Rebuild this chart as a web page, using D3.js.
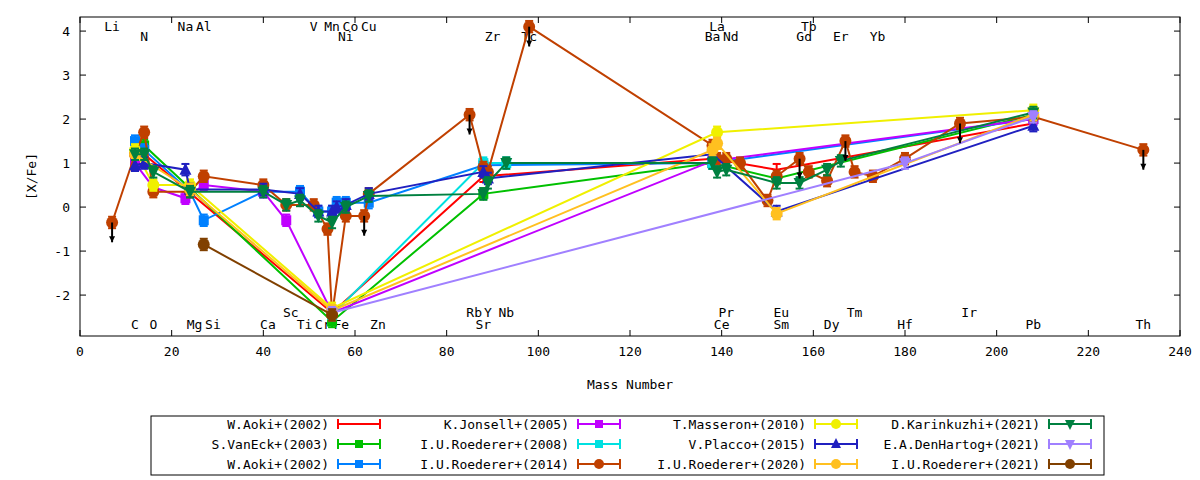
<!DOCTYPE html>
<html><head><meta charset="utf-8">
<script src="https://cdn.jsdelivr.net/npm/d3@7"></script>
<style>body{margin:0;background:#fff}text{font-family:'DejaVu Sans Mono',monospace;font-size:13px}</style>
</head><body><svg id="chart" width="1200" height="480"></svg>
<script>
// element labels: [symbol, mass, row] rows: 0 top, 1 top-second, 2 bottom-upper, 3 bottom
const elements = [
  ['Li',7,0],['Na',23,0],['Al',27,0],['V',51,0],['Mn',55,0],['Co',59,0],['Cu',63,0],['La',139,0],['Tb',159,0],
  ['N',14,1],['Ni',58,1],['Zr',90,1],['Tc',98,1],['Ba',138,1],['Nd',142,1],['Gd',158,1],['Er',166,1],['Yb',174,1],
  ['Sc',46,2],['Rb',86,2],['Y',89,2],['Nb',93,2],['Pr',141,2],['Eu',153,2],['Tm',169,2],['Ir',194,2],
  ['C',12,3],['O',16,3],['Mg',25,3],['Si',29,3],['Ca',41,3],['Ti',49,3],['Cr',53,3],['Fe',57,3],['Zn',65,3],
  ['Sr',88,3],['Ce',140,3],['Sm',153,3],['Dy',164,3],['Hf',180,3],['Pb',208,3],['Th',232,3]
];
const xTicks = [0,20,40,60,80,100,120,140,160,180,200,220,240];
const yTicks = [-2,-1,0,1,2,3,4];

const aoki = [[12,1.1],[14,1.2],[55,-2.4],[88,0.7],[138,1.1],[152,0.85],[208,1.9]];
const vanEck = [[12,1.2],[14,1.4],[55,-2.6],[88,0.3],[138,1.0],[152,0.65],[208,2.1]];
const aoki2 = [[12,1.5],[14,1.3],[24,0.35],[27,-0.3],[40,0.35],[48,0.35],[52,-0.1],[55,-0.1],[56,0.1],[58,0.1],[63,0.1],[88,0.95],[138,1.0],[208,2.0]];
const jonsell = [[12,1.0],[16,0.45],[23,0.2],[27,0.5],[40,0.35],[45,-0.3],[55,-2.4],[138,1.05],[208,2.0]];
const roederer08 = [[55,-2.45],[88,1.0],[93,1.0],[138,1.0]];
const roederer14 = [[7,-0.35],[12,1.2],[14,1.7],[16,0.35],[24,0.35],[27,0.7],[40,0.5],[45,0.05],[51,0.05],[54,-0.5],[55,-2.45],[58,-0.2],[62,-0.2],[63,0.3],[85,2.1],[88,0.9],[89,0.8],[98,4.1],[138,1.4],[139,1.1],[141,1.1],[144,1.0],[150,0.15],[152,0.7],[157,1.1],[159,0.8],[163,0.6],[167,1.5],[169,0.8],[173,0.7],[180,1.1],[192,1.9],[208,2.05],[232,1.3]];
const roederer14Limits = [7,62,85,98,157,167,192,232];
const masseron = [[12,1.3],[16,0.5],[24,0.5],[55,-2.3],[139,1.7],[208,2.2]];
const placco = [[12,0.95],[14,1.0],[23,0.85],[24,0.4],[40,0.4],[48,0.3],[52,-0.1],[55,-0.1],[56,0.0],[58,0.05],[63,0.3],[88,0.8],[89,0.65],[138,1.2],[152,-0.1],[208,1.85]];
const roederer20 = [[12,1.2],[24,0.4],[55,-2.35],[138,1.3],[139,1.45],[152,-0.15],[208,2.1]];
const karinkuzhi = [[12,1.2],[14,1.2],[16,0.8],[24,0.35],[40,0.35],[45,0.05],[48,0.15],[52,-0.2],[55,-0.35],[58,0.0],[63,0.25],[88,0.3],[89,0.55],[93,1.0],[138,1.0],[139,0.8],[141,0.85],[152,0.55],[157,0.55],[163,0.85],[166,1.05],[208,2.15]];
const denHartog = [[55,-2.4],[180,1.0],[208,2.05]];
const roederer21 = [[27,-0.85],[55,-2.45]];

const series = [
  {name:'W.Aoki+(2002)', data:aoki, color:'#ff0000', mark:'none'},
  {name:'S.VanEck+(2003)', data:vanEck, color:'#00c000', mark:'square'},
  {name:'W.Aoki+(2002)', data:aoki2, color:'#0080ff', mark:'square'},
  {name:'K.Jonsell+(2005)', data:jonsell, color:'#c000ff', mark:'square'},
  {name:'I.U.Roederer+(2008)', data:roederer08, color:'#00e0e0', mark:'square'},
  {name:'I.U.Roederer+(2014)', data:roederer14, color:'#c04000', mark:'circle'},
  {name:'T.Masseron+(2010)', data:masseron, color:'#f0f000', mark:'circle'},
  {name:'V.Placco+(2015)', data:placco, color:'#2020c0', mark:'up'},
  {name:'I.U.Roederer+(2020)', data:roederer20, color:'#ffc020', mark:'circle'},
  {name:'D.Karinkuzhi+(2021)', data:karinkuzhi, color:'#008040', mark:'down'},
  {name:'E.A.DenHartog+(2021)', data:denHartog, color:'#a080ff', mark:'down'},
  {name:'I.U.Roederer+(2021)', data:roederer21, color:'#804000', mark:'circle'}
];

const svg = d3.select('#chart');
const L = 80, R = 1180, T = 17, B = 336;
const x = d3.scaleLinear().domain([0,240]).range([L,R]);
const y = d3.scaleLinear().domain([-2.93,4.32]).range([B,T]);

// ticks (mirrored, inward)
const ax = svg.append('g').attr('stroke','#000').attr('stroke-width',1);
xTicks.forEach((t) => {
  ax.append('line').attr('x1',x(t)).attr('x2',x(t)).attr('y1',B).attr('y2',B-6);
  ax.append('line').attr('x1',x(t)).attr('x2',x(t)).attr('y1',T).attr('y2',T+6);
});
yTicks.forEach((t) => {
  ax.append('line').attr('x1',L).attr('x2',L+6).attr('y1',y(t)).attr('y2',y(t));
  ax.append('line').attr('x1',R).attr('x2',R-6).attr('y1',y(t)).attr('y2',y(t));
});
svg.append('g').selectAll('text').data(xTicks).enter().append('text')
  .attr('x',(d) => x(d)).attr('y',B+20).attr('text-anchor','middle').text((d) => d);
svg.append('g').selectAll('text').data(yTicks).enter().append('text')
  .attr('x',L-10).attr('y',(d) => y(d)+5).attr('text-anchor','end').text((d) => d);
svg.append('text').attr('x',(L+R)/2).attr('y',389).attr('text-anchor','middle').text('Mass Number');
svg.append('text').attr('transform',`translate(36,${(T+B)/2}) rotate(-90)`).attr('text-anchor','middle').text('[X/Fe]');

// element labels
const rowY = [31,41,317,329];
svg.append('g').selectAll('text').data(elements).enter().append('text')
  .attr('x',(d) => x(d[1])).attr('y',(d) => rowY[d[2]]).attr('text-anchor','middle').text((d) => d[0]);

function marker(g, kind, cx, cy, color, s) {
  if (kind === 'square') g.append('rect').attr('x',cx-s).attr('y',cy-s).attr('width',2*s).attr('height',2*s).attr('fill',color);
  else if (kind === 'circle') g.append('circle').attr('cx',cx).attr('cy',cy).attr('r',s+1).attr('fill',color);
  else if (kind === 'up') g.append('path').attr('d',`M${cx},${cy-s-2}L${cx+s+1},${cy+s}L${cx-s-1},${cy+s}Z`).attr('fill',color);
  else if (kind === 'down') g.append('path').attr('d',`M${cx},${cy+s+2}L${cx+s+1},${cy-s}L${cx-s-1},${cy-s}Z`).attr('fill',color);
}

const line = d3.line().x((d) => x(d[0])).y((d) => y(d[1]));
series.forEach((s) => {
  const g = svg.append('g');
  g.append('path').datum(s.data).attr('d',line).attr('fill','none').attr('stroke',s.color).attr('stroke-width',2);
  s.data.forEach((d) => {
    const cx = x(d[0]), cy = y(d[1]);
    g.append('line').attr('x1',cx).attr('x2',cx).attr('y1',y(d[1]+0.13)).attr('y2',y(d[1]-0.13)).attr('stroke',s.color).attr('stroke-width',2);
    [d[1]+0.13,d[1]-0.13].forEach((v) => g.append('line').attr('x1',cx-4).attr('x2',cx+4).attr('y1',y(v)).attr('y2',y(v)).attr('stroke',s.color).attr('stroke-width',2));
    marker(g, s.mark, cx, cy, s.color, 5);
  });
});
// upper limit arrows
const lim = svg.append('g');
roederer14.filter((d) => roederer14Limits.includes(d[0])).forEach((d) => {
  const cx = x(d[0]), y0 = y(d[1]), y1 = y(d[1]-0.45);
  lim.append('line').attr('x1',cx).attr('x2',cx).attr('y1',y0).attr('y2',y1).attr('stroke','#000').attr('stroke-width',2);
  lim.append('path').attr('d',`M${cx-3},${y1-6}L${cx+3},${y1-6}L${cx},${y1}Z`).attr('fill','#000');
});

// frame
svg.append('rect').attr('x',L).attr('y',T).attr('width',R-L).attr('height',B-T).attr('fill','none').attr('stroke','#000');

// legend
svg.append('rect').attr('x',151).attr('y',416).attr('width',953).attr('height',59).attr('fill','none').attr('stroke','#000');
const colText = [329,569,806,1040];
series.forEach((s,i) => {
  const c = Math.floor(i/3), r = i%3;
  const ty = 424 + r*20;
  svg.append('text').attr('x',colText[c]).attr('y',ty+5).attr('text-anchor','end').text(s.name);
  const x0 = colText[c]+9, x1 = x0+42, g = svg.append('g');
  g.append('line').attr('x1',x0).attr('x2',x1).attr('y1',ty).attr('y2',ty).attr('stroke',s.color).attr('stroke-width',2);
  [x0,x1].forEach((xx) => g.append('line').attr('x1',xx).attr('x2',xx).attr('y1',ty-5).attr('y2',ty+5).attr('stroke',s.color).attr('stroke-width',2));
  marker(g, s.mark, (x0+x1)/2, ty, s.color, 4);
});
</script></body></html>
